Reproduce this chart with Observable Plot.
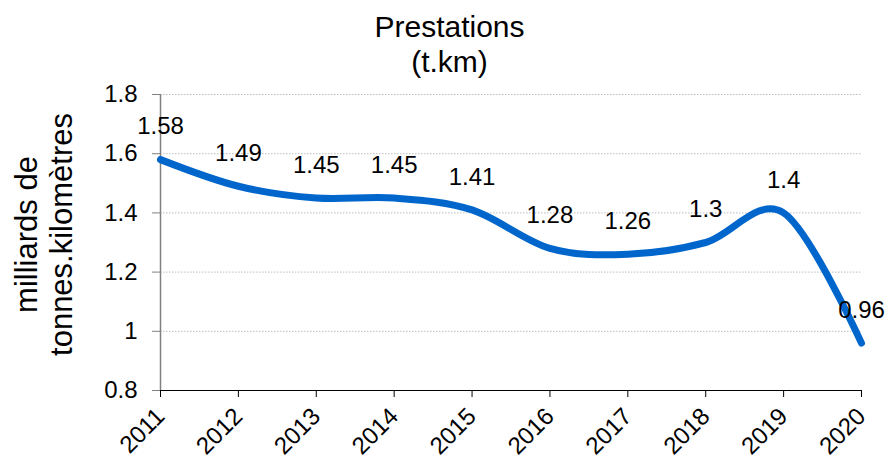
<!DOCTYPE html>
<html>
<head>
<meta charset="utf-8">
<script src="https://cdn.jsdelivr.net/npm/d3@7"></script>
<script src="https://cdn.jsdelivr.net/npm/@observablehq/plot@0.6"></script>
<style>
  html, body { margin: 0; padding: 0; background: white; }
  #wrap { width: 889px; height: 464px; overflow: hidden; font-family: "Liberation Sans", Arial, sans-serif; }
  #title { box-sizing: border-box; height: 79px; padding-top: 9px; padding-left: 10px; text-align: center; font-size: 30px; line-height: 35px; color: #000; }
</style>
</head>
<body>
<div id="wrap">
  <div id="title">Prestations<br>(t.km)</div>
  <div id="chart"></div>
</div>
<script>
const years = [2011, 2012, 2013, 2014, 2015, 2016, 2017, 2018, 2019, 2020];
const values = [1.58, 1.49, 1.45, 1.45, 1.41, 1.28, 1.26, 1.3, 1.4, 0.96];
const valueLabels = ["1.58", "1.49", "1.45", "1.45", "1.41", "1.28", "1.26", "1.3", "1.4", "0.96"];
const yTicks = [0.8, 1, 1.2, 1.4, 1.6, 1.8];
const yTickLabels = ["0.8", "1", "1.2", "1.4", "1.6", "1.8"];
const yTitle = "milliards de\ntonnes.kilomètres";

const data = years.map((year, i) => ({year, value: values[i], label: valueLabels[i]}));

const chart = Plot.plot({
  width: 889,
  height: 385,
  marginTop: 15,
  marginBottom: 74,
  marginLeft: 160,
  marginRight: 28,
  style: {fontFamily: "'Liberation Sans', Arial, sans-serif", background: "white", color: "black"},
  x: {domain: [years[0], years[years.length - 1]]},
  y: {domain: [yTicks[0], yTicks[yTicks.length - 1]]},
  marks: [
    Plot.ruleY(yTicks.slice(1), {stroke: "#bdbdbd", strokeDasharray: "1.5,1.5", strokeWidth: 1}),
    Plot.ruleX([years[0]], {stroke: "#808080", strokeWidth: 1.5}),
    Plot.ruleY([yTicks[0]], {stroke: "#000", strokeWidth: 1.2}),
    Plot.axisY({
      ticks: yTicks,
      tickFormat: d => yTickLabels[yTicks.indexOf(d)],
      tickSize: 8,
      tickPadding: 15,
      fontSize: 24,
      stroke: "#808080",
      fill: "black",
      label: null
    }),
    Plot.axisX({
      ticks: years,
      tickFormat: d => String(d),
      tickSize: 7,
      tickPadding: 15,
      tickRotate: -45,
      fontSize: 24,
      stroke: "#000",
      fill: "black",
      label: null
    }),
    Plot.line(data, {x: "year", y: "value", curve: "cardinal", stroke: "#0066CC", strokeWidth: 7, strokeLinecap: "round", strokeLinejoin: "round"}),
    Plot.text(data, {x: "year", y: "value", text: "label", dy: -33, fontSize: 24, fill: "black"}),
    Plot.text([yTitle], {frameAnchor: "left", textAnchor: "middle", text: d => d, dx: -117, dy: -8, rotate: -90, fontSize: 31, lineHeight: 1.13, fill: "black"})
  ]
});
document.getElementById("chart").appendChild(chart);
</script>
</body>
</html>
